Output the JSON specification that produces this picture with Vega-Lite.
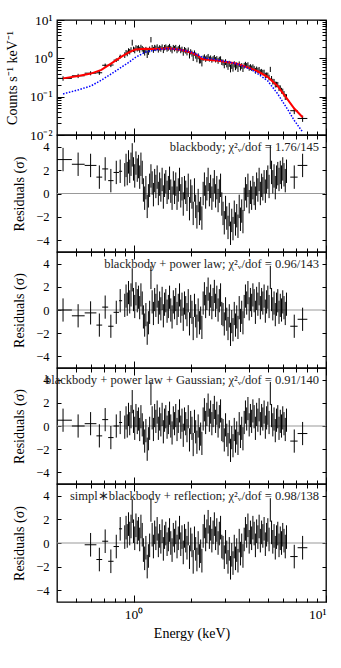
{
"$schema": "https://vega.github.io/schema/vega-lite/v6.json",
"padding": {"left": 4, "top": 12, "right": 5, "bottom": 22},
"spacing": 0,
"bounds": "flush",
"datasets": {
"bins": [
{"e":0.43,"lo":0.4,"hi":0.478,"f":0.3,"fe":0.04,"r1":2.9,"r2":0,"r3":0.5,"r4":null,"u":1},
{"e":0.515,"lo":0.478,"hi":0.557,"f":0.35,"fe":0.045,"r1":2.5,"r2":-0.5,"r3":0,"r4":null,"u":1},
{"e":0.598,"lo":0.557,"hi":0.641,"f":0.41,"fe":0.05,"r1":2.4,"r2":-0.25,"r3":0.2,"r4":-0.15,"u":1},
{"e":0.664,"lo":0.641,"hi":0.687,"f":0.42,"fe":0.05,"r1":1.4,"r2":-1.3,"r3":-0.85,"r4":-1.4,"u":1},
{"e":0.712,"lo":0.687,"hi":0.738,"f":0.66,"fe":0.07,"r1":2.1,"r2":0.25,"r3":0.55,"r4":0.15,"u":1},
{"e":0.762,"lo":0.738,"hi":0.787,"f":0.67,"fe":0.08,"r1":1.1,"r2":-1.4,"r3":-1,"r4":-1.55,"u":1},
{"e":0.813,"lo":0.787,"hi":0.84,"f":0.9,"fe":0.1,"r1":1.8,"r2":-0.2,"r3":0,"r4":-0.3,"u":1},
{"e":0.852,"lo":0.84,"hi":0.872,"f":1.12,"fe":0.13,"r1":1.9,"r2":0.8,"r3":0.3,"r4":1.2,"u":1},
{"e":0.900,"f":1.23,"fe":0.21,"r1":1.6,"r2":0.4,"r3":-0.1,"r4":0.5,"u":1},
{"e":0.914,"f":1.43,"fe":0.22,"r1":2.4,"r2":1.2,"r3":0.7,"r4":1.3,"u":1},
{"e":0.927,"f":1.36,"fe":0.23,"r1":1.7,"r2":0.5,"r3":0,"r4":0.6,"u":1},
{"e":0.941,"f":1.59,"fe":0.24,"r1":2.7,"r2":1.5,"r3":1,"r4":1.6,"u":1},
{"e":0.955,"f":1.51,"fe":0.25,"r1":1.9,"r2":0.7,"r3":0.2,"r4":0.8,"u":1},
{"e":0.970,"f":1.69,"fe":0.26,"r1":2.5,"r2":1.3,"r3":0.8,"r4":1.4,"u":1},
{"e":0.984,"f":2.6,"fe":0.45,"r1":3.3,"r2":2.6,"r3":2.1,"r4":2.7,"u":1},
{"e":0.999,"f":1.74,"fe":0.28,"r1":2.1,"r2":0.9,"r3":0.4,"r4":1,"u":1},
{"e":1.014,"f":1.64,"fe":0.29,"r1":1.5,"r2":0.3,"r3":-0.2,"r4":0.4,"u":1},
{"e":1.029,"f":1.91,"fe":0.29,"r1":2.6,"r2":1.4,"r3":0.9,"r4":1.5,"u":1},
{"e":1.045,"f":1.81,"fe":0.3,"r1":2,"r2":0.8,"r3":0.3,"r4":0.9,"u":1},
{"e":1.060,"f":1.9,"fe":0.3,"r1":2.3,"r2":1.1,"r3":0.6,"r4":1.2,"u":1},
{"e":1.076,"f":1.7,"fe":0.3,"r1":1.4,"r2":0.2,"r3":-0.3,"r4":0.3,"u":1},
{"e":1.092,"f":1.96,"fe":0.3,"r1":2.5,"r2":1.3,"r3":0.8,"r4":1.4,"u":1},
{"e":1.109,"f":1.8,"fe":0.3,"r1":1.8,"r2":0.6,"r3":0.1,"r4":0.7,"u":1},
{"e":1.125,"f":1.64,"fe":0.3,"r1":0.3,"r2":-0.6,"r3":-0.6,"r4":-0.6,"u":1},
{"e":1.142,"f":1.48,"fe":0.3,"r1":-0.4,"r2":-1.3,"r3":-1.3,"r4":-1.3,"u":1},
{"e":1.159,"f":1.69,"fe":0.3,"r1":0.5,"r2":-0.4,"r3":-0.4,"r4":-0.4,"u":1},
{"e":1.177,"f":1.32,"fe":0.3,"r1":-1.1,"r2":-2,"r3":-2,"r4":-2,"u":1},
{"e":1.194,"f":1.53,"fe":0.3,"r1":-0.2,"r2":-1.1,"r3":-1.1,"r4":-1.1,"u":1},
{"e":1.212,"f":1.73,"fe":0.3,"r1":0.7,"r2":-0.2,"r3":-0.2,"r4":-0.2,"u":1},
{"e":1.231,"f":3.1,"fe":0.5,"r1":1.5,"r2":2.8,"r3":2.8,"r4":2.8,"u":1},
{"e":1.249,"f":1.92,"fe":0.3,"r1":0.9,"r2":0.7,"r3":0.7,"r4":0.7,"u":1},
{"e":1.268,"f":1.69,"fe":0.3,"r1":-0.1,"r2":-0.3,"r3":-0.3,"r4":-0.3,"u":1},
{"e":1.287,"f":1.95,"fe":0.3,"r1":1.1,"r2":0.9,"r3":0.9,"r4":0.9,"u":1},
{"e":1.306,"f":1.84,"fe":0.3,"r1":0.6,"r2":0.4,"r3":0.4,"r4":0.4,"u":1},
{"e":1.326,"f":2.02,"fe":0.3,"r1":1.4,"r2":1.2,"r3":1.2,"r4":1.2,"u":1},
{"e":1.345,"f":1.71,"fe":0.3,"r1":0,"r2":-0.2,"r3":-0.2,"r4":-0.2,"u":1},
{"e":1.366,"f":1.9,"fe":0.3,"r1":0.8,"r2":0.6,"r3":0.6,"r4":0.6,"u":1},
{"e":1.386,"f":1.79,"fe":0.3,"r1":0.3,"r2":0.1,"r3":0.1,"r4":0.1,"u":1},
{"e":1.407,"f":2.01,"fe":0.3,"r1":1.2,"r2":1,"r3":1,"r4":1,"u":1},
{"e":1.428,"f":1.67,"fe":0.3,"r1":-0.3,"r2":-0.5,"r3":-0.5,"r4":-0.5,"u":1},
{"e":1.449,"f":1.92,"fe":0.31,"r1":0.7,"r2":0.5,"r3":0.5,"r4":0.5,"u":1},
{"e":1.471,"f":2,"fe":0.31,"r1":1,"r2":0.8,"r3":0.8,"r4":0.8,"u":1},
{"e":1.493,"f":1.8,"fe":0.31,"r1":0.1,"r2":-0.1,"r3":-0.1,"r4":-0.1,"u":1},
{"e":1.516,"f":1.89,"fe":0.31,"r1":0.5,"r2":0.3,"r3":0.3,"r4":0.3,"u":1},
{"e":1.538,"f":2.07,"fe":0.31,"r1":1.3,"r2":1.1,"r3":1.1,"r4":1.1,"u":1},
{"e":1.561,"f":1.8,"fe":0.31,"r1":0.2,"r2":0,"r3":0,"r4":0,"u":1},
{"e":1.585,"f":1.65,"fe":0.3,"r1":-0.4,"r2":-0.6,"r3":-0.6,"r4":-0.6,"u":1},
{"e":1.609,"f":1.94,"fe":0.3,"r1":0.9,"r2":0.7,"r3":0.7,"r4":0.7,"u":1},
{"e":1.633,"f":1.81,"fe":0.3,"r1":0.1,"r2":0.2,"r3":0.2,"r4":0.2,"u":1},
{"e":1.657,"f":1.94,"fe":0.3,"r1":0.8,"r2":0.9,"r3":0.9,"r4":0.9,"u":1},
{"e":1.682,"f":1.65,"fe":0.29,"r1":-0.4,"r2":-0.3,"r3":-0.3,"r4":-0.3,"u":1},
{"e":1.707,"f":1.79,"fe":0.29,"r1":0.3,"r2":0.4,"r3":0.4,"r4":0.4,"u":1},
{"e":1.733,"f":1.96,"fe":0.29,"r1":1.2,"r2":1.3,"r3":1.3,"r4":1.3,"u":1},
{"e":1.759,"f":1.64,"fe":0.28,"r1":-0.2,"r2":-0.1,"r3":-0.1,"r4":-0.1,"u":1},
{"e":1.785,"f":1.74,"fe":0.28,"r1":0.4,"r2":0.5,"r3":0.5,"r4":0.5,"u":1},
{"e":1.812,"f":1.44,"fe":0.27,"r1":-0.9,"r2":-0.8,"r3":-0.8,"r4":-0.8,"u":1},
{"e":1.839,"f":1.7,"fe":0.27,"r1":0.5,"r2":0.6,"r3":0.6,"r4":0.6,"u":1},
{"e":1.867,"f":1.6,"fe":0.27,"r1":0.1,"r2":0.2,"r3":0.2,"r4":0.2,"u":1},
{"e":1.895,"f":1.45,"fe":0.26,"r1":-0.5,"r2":-0.4,"r3":-0.4,"r4":-0.4,"u":1},
{"e":1.923,"f":1.66,"fe":0.26,"r1":0.7,"r2":0.8,"r3":0.8,"r4":0.8,"u":1},
{"e":1.952,"f":1.24,"fe":0.25,"r1":-1.3,"r2":-1.2,"r3":-1.2,"r4":-1.2,"u":1},
{"e":1.981,"f":1.49,"fe":0.24,"r1":0.2,"r2":0.3,"r3":0.3,"r4":0.3,"u":1},
{"e":2.011,"f":1.35,"fe":0.24,"r1":-0.3,"r2":-0.2,"r3":-0.2,"r4":-0.2,"u":1},
{"e":2.041,"f":1.08,"fe":0.23,"r1":-1.7,"r2":-1.6,"r3":-1.6,"r4":-1.6,"u":1},
{"e":2.072,"f":1.39,"fe":0.22,"r1":0.3,"r2":0.4,"r3":0.4,"r4":0.4,"u":1},
{"e":2.103,"f":1.2,"fe":0.22,"r1":-1.1,"r2":-0.5,"r3":-0.5,"r4":-0.5,"u":1},
{"e":2.134,"f":1,"fe":0.21,"r1":-2,"r2":-1.4,"r3":-1.4,"r4":-1.4,"u":1},
{"e":2.166,"f":1.15,"fe":0.2,"r1":-0.6,"r2":0,"r3":0,"r4":0,"u":1},
{"e":2.199,"f":0.91,"fe":0.18,"r1":-1.7,"r2":-1.1,"r3":-1.1,"r4":-1.1,"u":1},
{"e":2.232,"f":0.91,"fe":0.17,"r1":-1.3,"r2":-0.7,"r3":-0.7,"r4":-0.7,"u":1},
{"e":2.265,"f":0.78,"fe":0.165,"r1":-2.1,"r2":-1.5,"r3":-1.5,"r4":-1.5,"u":1},
{"e":2.299,"f":1.02,"fe":0.16,"r1":0,"r2":0.6,"r3":0.6,"r4":0.6,"u":1},
{"e":2.334,"f":1.11,"fe":0.16,"r1":0.8,"r2":1.4,"r3":1.4,"r4":1.4,"u":1},
{"e":2.369,"f":0.97,"fe":0.16,"r1":-0.3,"r2":0.3,"r3":0.3,"r4":0.3,"u":1},
{"e":2.404,"f":1.04,"fe":0.16,"r1":0.4,"r2":1,"r3":1,"r4":1,"u":1},
{"e":2.44,"f":1.14,"fe":0.16,"r1":1.2,"r2":1.8,"r3":1.8,"r4":1.8,"u":1},
{"e":2.477,"f":0.97,"fe":0.15,"r1":-0.1,"r2":0.5,"r3":0.5,"r4":0.5,"u":1},
{"e":2.514,"f":1.04,"fe":0.15,"r1":0.6,"r2":1.2,"r3":1.2,"r4":1.2,"u":1},
{"e":2.552,"f":0.92,"fe":0.15,"r1":-0.4,"r2":0.2,"r3":0.2,"r4":0.2,"u":1},
{"e":2.59,"f":0.99,"fe":0.15,"r1":0.3,"r2":0.9,"r3":0.9,"r4":0.9,"u":1},
{"e":2.629,"f":1.07,"fe":0.15,"r1":1,"r2":1.6,"r3":1.6,"r4":1.6,"u":1},
{"e":2.668,"f":0.93,"fe":0.15,"r1":-0.2,"r2":0.4,"r3":0.4,"r4":0.4,"u":1},
{"e":2.708,"f":0.99,"fe":0.15,"r1":0.5,"r2":1.1,"r3":1.1,"r4":1.1,"u":1},
{"e":2.749,"f":0.87,"fe":0.15,"r1":-0.6,"r2":0,"r3":0,"r4":0,"u":1},
{"e":2.79,"f":0.95,"fe":0.15,"r1":0.2,"r2":0.8,"r3":0.8,"r4":0.8,"u":1},
{"e":2.832,"f":0.99,"fe":0.14,"r1":0.7,"r2":1.3,"r3":1.3,"r4":1.3,"u":1},
{"e":2.874,"f":0.81,"fe":0.14,"r1":-0.9,"r2":-0.3,"r3":-0.3,"r4":-0.3,"u":1},
{"e":2.917,"f":0.79,"fe":0.14,"r1":-1.7,"r2":-0.4,"r3":-0.4,"r4":-0.4,"u":1},
{"e":2.961,"f":0.69,"fe":0.14,"r1":-2.5,"r2":-1.2,"r3":-1.2,"r4":-1.2,"u":1},
{"e":3.006,"f":0.81,"fe":0.14,"r1":-1.2,"r2":0.1,"r3":0.1,"r4":0.1,"u":1},
{"e":3.051,"f":0.72,"fe":0.14,"r1":-2.1,"r2":-0.8,"r3":-0.8,"r4":-0.8,"u":1},
{"e":3.096,"f":0.63,"fe":0.13,"r1":-2.9,"r2":-1.6,"r3":-1.6,"r4":-1.6,"u":1},
{"e":3.143,"f":0.73,"fe":0.13,"r1":-1.8,"r2":-0.5,"r3":-0.5,"r4":-0.5,"u":1},
{"e":3.19,"f":0.56,"fe":0.13,"r1":-3.4,"r2":-2.1,"r3":-2.1,"r4":-2.1,"u":1},
{"e":3.238,"f":0.66,"fe":0.13,"r1":-2.3,"r2":-1,"r3":-1,"r4":-1,"u":1},
{"e":3.286,"f":0.58,"fe":0.13,"r1":-3,"r2":-1.7,"r3":-1.7,"r4":-1.7,"u":1},
{"e":3.336,"f":0.71,"fe":0.13,"r1":-1.6,"r2":-0.3,"r3":-0.3,"r4":-0.3,"u":1},
{"e":3.386,"f":0.61,"fe":0.12,"r1":-2.6,"r2":-1.3,"r3":-1.3,"r4":-1.3,"u":1},
{"e":3.436,"f":0.66,"fe":0.12,"r1":-1.9,"r2":-0.6,"r3":-0.6,"r4":-0.6,"u":1},
{"e":3.488,"f":0.56,"fe":0.12,"r1":-2.8,"r2":-1.5,"r3":-1.5,"r4":-1.5,"u":1},
{"e":3.54,"f":0.71,"fe":0.12,"r1":-1.1,"r2":0.2,"r3":0.2,"r4":0.2,"u":1},
{"e":3.593,"f":0.59,"fe":0.11,"r1":-2.2,"r2":-0.9,"r3":-0.9,"r4":-0.9,"u":1},
{"e":3.647,"f":0.64,"fe":0.11,"r1":-1.5,"r2":-0.2,"r3":-0.2,"r4":-0.2,"u":1},
{"e":3.702,"f":0.55,"fe":0.11,"r1":-2.4,"r2":-1.1,"r3":-1.1,"r4":-1.1,"u":1},
{"e":3.757,"f":0.65,"fe":0.11,"r1":-0.5,"r2":0.3,"r3":0.3,"r4":0.3,"u":1},
{"e":3.814,"f":0.71,"fe":0.1,"r1":0.4,"r2":1.2,"r3":1.2,"r4":1.2,"u":1},
{"e":3.871,"f":0.65,"fe":0.1,"r1":-0.2,"r2":0.6,"r3":0.6,"r4":0.6,"u":1},
{"e":3.929,"f":0.69,"fe":0.1,"r1":0.7,"r2":1.5,"r3":1.5,"r4":1.5,"u":1},
{"e":3.988,"f":0.57,"fe":0.095,"r1":-0.7,"r2":0.1,"r3":0.1,"r4":0.1,"u":1},
{"e":4.048,"f":0.61,"fe":0.094,"r1":0.1,"r2":0.9,"r3":0.9,"r4":0.9,"u":1},
{"e":4.108,"f":0.56,"fe":0.09,"r1":-0.4,"r2":0.4,"r3":0.4,"r4":0.4,"u":1},
{"e":4.17,"f":0.61,"fe":0.088,"r1":0.5,"r2":1.3,"r3":1.3,"r4":1.3,"u":1},
{"e":4.232,"f":0.55,"fe":0.085,"r1":0,"r2":0.8,"r3":0.8,"r4":0.8,"u":1},
{"e":4.296,"f":0.48,"fe":0.083,"r1":-0.4,"r2":-0.2,"r3":-0.2,"r4":-0.2,"u":1},
{"e":4.36,"f":0.53,"fe":0.08,"r1":0.8,"r2":1,"r3":1,"r4":1,"u":1},
{"e":4.426,"f":0.49,"fe":0.078,"r1":0.3,"r2":0.5,"r3":0.5,"r4":0.5,"u":1},
{"e":4.492,"f":0.52,"fe":0.075,"r1":1.2,"r2":1.4,"r3":1.4,"r4":1.4,"u":1},
{"e":4.559,"f":0.44,"fe":0.073,"r1":0,"r2":0.2,"r3":0.2,"r4":0.2,"u":1},
{"e":4.628,"f":0.46,"fe":0.07,"r1":0.7,"r2":0.9,"r3":0.9,"r4":0.9,"u":1},
{"e":4.697,"f":0.43,"fe":0.068,"r1":0.4,"r2":0.6,"r3":0.6,"r4":0.6,"u":1},
{"e":4.768,"f":0.44,"fe":0.065,"r1":1,"r2":1.2,"r3":1.2,"r4":1.2,"u":1},
{"e":4.839,"f":0.36,"fe":0.061,"r1":0.2,"r2":-0.1,"r3":-0.1,"r4":-0.1,"u":1},
{"e":4.912,"f":0.37,"fe":0.058,"r1":1,"r2":0.7,"r3":0.7,"r4":0.7,"u":1},
{"e":4.986,"f":0.37,"fe":0.054,"r1":1.4,"r2":1.1,"r3":1.1,"r4":1.1,"u":1},
{"e":5.06,"f":0.32,"fe":0.053,"r1":0.6,"r2":0.3,"r3":0.3,"r4":0.3,"u":1},
{"e":5.136,"f":0.52,"fe":0.08,"r1":3.1,"r2":2.8,"r3":2.8,"r4":2.8,"u":1},
{"e":5.213,"f":0.3,"fe":0.046,"r1":1.8,"r2":0.9,"r3":0.9,"r4":0.9,"u":1},
{"e":5.291,"f":0.25,"fe":0.043,"r1":1,"r2":0.1,"r3":0.1,"r4":0.1,"u":1},
{"e":5.371,"f":0.25,"fe":0.04,"r1":1.5,"r2":0.6,"r3":0.6,"r4":0.6,"u":1},
{"e":5.451,"f":0.21,"fe":0.037,"r1":0.5,"r2":-0.4,"r3":-0.4,"r4":-0.4,"u":1},
{"e":5.533,"f":0.21,"fe":0.034,"r1":1.4,"r2":0.5,"r3":0.5,"r4":0.5,"u":1},
{"e":5.616,"f":0.21,"fe":0.032,"r1":1.7,"r2":0.8,"r3":0.8,"r4":0.8,"u":1},
{"e":5.7,"f":0.17,"fe":0.03,"r1":1.2,"r2":-0.2,"r3":-0.2,"r4":-0.2,"u":1},
{"e":5.786,"f":0.17,"fe":0.027,"r1":1.8,"r2":0.4,"r3":0.4,"r4":0.4,"u":1},
{"e":5.873,"f":0.145,"fe":0.025,"r1":1.4,"r2":0,"r3":0,"r4":0,"u":1},
{"e":5.961,"f":0.14,"fe":0.022,"r1":2.1,"r2":0.7,"r3":0.7,"r4":0.7,"u":1},
{"e":6.05,"f":0.12,"fe":0.02,"r1":1.6,"r2":0.2,"r3":0.2,"r4":0.2,"u":1},
{"e":6.141,"f":0.1,"fe":0.018,"r1":1.1,"r2":-0.3,"r3":-0.3,"r4":-0.3,"u":1},
{"e":6.233,"f":0.1,"fe":0.016,"r1":1.9,"r2":0.5,"r3":0.5,"r4":0.5,"u":1},
{"e":6.84,"lo":6.52,"hi":7.12,"f":0.043,"fe":0.008,"r1":1.4,"r2":-1.4,"r3":-1.3,"r4":-1.15,"u":1},
{"e":7.56,"lo":7.12,"hi":8.0,"f":0.027,"fe":0.005,"r1":2.4,"r2":-0.8,"r3":-0.65,"r4":-0.4,"u":1}
],
"model": [
{"e":0.43,"m":0.3,"b":0.118},{"e":0.515,"m":0.345,"b":0.15},{"e":0.6,"m":0.4,"b":0.19},{"e":0.68,"m":0.5,"b":0.27},{"e":0.77,"m":0.75,"b":0.4},{"e":0.87,"m":1.12,"b":0.6},{"e":0.95,"m":1.45,"b":0.8},{"e":1.02,"m":1.7,"b":1.05},{"e":1.15,"m":1.78,"b":1.45},{"e":1.34,"m":1.75,"b":1.7},{"e":1.52,"m":1.82,"b":1.8},{"e":1.78,"m":1.65,"b":1.66},{"e":2.0,"m":1.4,"b":1.45},{"e":2.16,"m":1.18,"b":1.22},{"e":2.25,"m":0.97,"b":1.1},{"e":2.35,"m":0.93,"b":1.02},{"e":2.76,"m":0.86,"b":0.9},{"e":2.96,"m":0.81,"b":0.84},{"e":3.37,"m":0.74,"b":0.74},{"e":3.61,"m":0.67,"b":0.66},{"e":4.12,"m":0.53,"b":0.5},{"e":4.41,"m":0.46,"b":0.4},{"e":4.97,"m":0.33,"b":0.26},{"e":5.6,"m":0.19,"b":0.12},{"e":6.31,"m":0.085,"b":0.047},{"e":6.84,"m":0.049,"b":0.024},{"e":7.56,"m":0.029,"b":0.012}
],
"labels": [
{"panel":1,"label":"blackbody; χ²ᵥ/dof = 1.76/145"},
{"panel":2,"label":"blackbody + power law; χ²ᵥ/dof = 0.96/143"},
{"panel":3,"label":"blackbody + power law + Gaussian; χ²ᵥ/dof = 0.91/140"},
{"panel":4,"label":"simpl∗blackbody + reflection; χ²ᵥ/dof = 0.98/138"}
]
},
"vconcat": [
{
"width": 269, "height": 115,
"resolve": {"axis": {"x": "independent", "y": "independent"}},
"layer": [
{"data": {"name": "bins"}, "transform": [{"filter": "isValid(datum.lo)"}],
"mark": {"type": "rule", "color": "#000", "strokeWidth": 1},
"encoding": {
"x": {"field": "lo", "type": "quantitative", "scale": {"type": "log", "domain": [0.4, 10], "nice": false}, "axis": {"orient": "bottom", "values": [1, 10], "tickSize": -7, "labels": false, "title": null}},
"x2": {"field": "hi"},
"y": {"field": "f", "type": "quantitative", "scale": {"type": "log", "domain": [0.01, 10], "nice": false}, "axis": {"orient": "left", "values": [0.01, 0.1, 1, 10], "tickSize": -7, "labelPadding": 12, "labelFontSize": 13.5, "labelExpr": "datum.value == 10 ? '10¹' : datum.value == 1 ? '10⁰' : datum.value == 0.1 ? '10⁻¹' : '10⁻²'", "title": "Counts s⁻¹ keV⁻¹", "titlePadding": 10}}
}},
{"data": {"name": "bins"},
"mark": {"type": "errorbar", "color": "#000", "rule": {"strokeWidth": 1}},
"encoding": {
"x": {"field": "e", "type": "quantitative", "scale": {"type": "log", "domain": [0.4, 10], "nice": false}, "axis": {"orient": "top", "values": [1, 10], "tickSize": -7, "labels": false, "title": null}},
"y": {"field": "f", "type": "quantitative", "scale": {"type": "log", "domain": [0.01, 10], "nice": false}, "axis": {"orient": "right", "values": [0.01, 0.1, 1, 10], "tickSize": -7, "labels": false, "title": null}},
"yError": {"field": "fe"}
}},
{"data": {"name": "model"},
"mark": {"type": "line", "color": "#ff0000", "strokeWidth": 2},
"encoding": {
"x": {"field": "e", "type": "quantitative", "scale": {"type": "log", "domain": [0.4, 10], "nice": false}, "axis": {"orient": "bottom", "values": [0.5,0.6,0.7,0.8,0.9,2,3,4,5,6,7,8,9], "tickSize": -4, "labels": false, "title": null}},
"y": {"field": "m", "type": "quantitative", "scale": {"type": "log", "domain": [0.01, 10], "nice": false}, "axis": {"orient": "left", "values": [0.02,0.03,0.04,0.05,0.06,0.07,0.08,0.09,0.2,0.3,0.4,0.5,0.6,0.7,0.8,0.9,2,3,4,5,6,7,8,9], "tickSize": -4, "labels": false, "title": null}}
}},
{"data": {"name": "model"},
"mark": {"type": "line", "color": "#0000ff", "strokeWidth": 1.5, "strokeDash": [1.5, 1.5]},
"encoding": {
"x": {"field": "e", "type": "quantitative", "scale": {"type": "log", "domain": [0.4, 10], "nice": false}, "axis": {"orient": "top", "values": [0.5,0.6,0.7,0.8,0.9,2,3,4,5,6,7,8,9], "tickSize": -4, "labels": false, "title": null}},
"y": {"field": "b", "type": "quantitative", "scale": {"type": "log", "domain": [0.01, 10], "nice": false}, "axis": {"orient": "right", "values": [0.02,0.03,0.04,0.05,0.06,0.07,0.08,0.09,0.2,0.3,0.4,0.5,0.6,0.7,0.8,0.9,2,3,4,5,6,7,8,9], "tickSize": -4, "labels": false, "title": null}}
}}
]
},
{
"width": 269, "height": 117,
"resolve": {"axis": {"x": "independent", "y": "independent"}},
"layer": [
{"data": {"name": "labels"}, "transform": [{"filter": "datum.panel == 1"}],
"mark": {"type": "rule", "color": "#999999", "strokeWidth": 1},
"encoding": {
"x": {"datum": 0.4, "type": "quantitative", "scale": {"type": "log", "domain": [0.4, 10], "nice": false}, "axis": {"orient": "bottom", "values": [1, 10], "tickSize": -7, "labels": false, "title": null}},
"x2": {"datum": 10},
"y": {"datum": 0, "type": "quantitative", "scale": {"domain": [-5, 5], "nice": false, "zero": false}, "axis": {"orient": "left", "values": [-4, -2, 0, 2, 4], "tickSize": -4, "labelPadding": 12, "labelFontSize": 12.5, "title": "Residuals (σ)", "titlePadding": 9}}
}},
{"data": {"name": "bins"}, "transform": [{"filter": "isValid(datum.lo)"}],
"mark": {"type": "rule", "color": "#000", "strokeWidth": 1},
"encoding": {
"x": {"field": "lo", "type": "quantitative", "scale": {"type": "log", "domain": [0.4, 10], "nice": false}, "axis": {"orient": "top", "values": [1, 10], "tickSize": -7, "labels": false, "title": null}},
"x2": {"field": "hi"},
"y": {"field": "r1", "type": "quantitative", "scale": {"domain": [-5, 5], "nice": false, "zero": false}, "axis": {"orient": "right", "values": [-4, -2, 0, 2, 4], "tickSize": -4, "labels": false, "title": null}}
}},
{"data": {"name": "bins"},
"mark": {"type": "errorbar", "color": "#000", "rule": {"strokeWidth": 1}},
"encoding": {
"x": {"field": "e", "type": "quantitative", "scale": {"type": "log", "domain": [0.4, 10], "nice": false}, "axis": {"orient": "bottom", "values": [0.5,0.6,0.7,0.8,0.9,2,3,4,5,6,7,8,9], "tickSize": -4, "labels": false, "title": null}},
"y": {"field": "r1", "type": "quantitative", "scale": {"domain": [-5, 5], "nice": false, "zero": false}, "axis": null},
"yError": {"field": "u"}
}},
{"data": {"name": "labels"}, "transform": [{"filter": "datum.panel == 1"}],
"mark": {"type": "text", "align": "right", "baseline": "middle", "fontSize": 12.5, "color": "#222"},
"encoding": {
"x": {"datum": 9.2, "type": "quantitative", "scale": {"type": "log", "domain": [0.4, 10], "nice": false}, "axis": {"orient": "top", "values": [0.5,0.6,0.7,0.8,0.9,2,3,4,5,6,7,8,9], "tickSize": -4, "labels": false, "title": null}},
"y": {"datum": 3.95, "type": "quantitative", "scale": {"domain": [-5, 5], "nice": false, "zero": false}, "axis": null},
"text": {"field": "label"}
}}
]
},
{
"width": 269, "height": 116,
"resolve": {"axis": {"x": "independent", "y": "independent"}},
"layer": [
{"data": {"name": "labels"}, "transform": [{"filter": "datum.panel == 2"}],
"mark": {"type": "rule", "color": "#999999", "strokeWidth": 1},
"encoding": {
"x": {"datum": 0.4, "type": "quantitative", "scale": {"type": "log", "domain": [0.4, 10], "nice": false}, "axis": {"orient": "bottom", "values": [1, 10], "tickSize": -7, "labels": false, "title": null}},
"x2": {"datum": 10},
"y": {"datum": 0, "type": "quantitative", "scale": {"domain": [-5, 5], "nice": false, "zero": false}, "axis": {"orient": "left", "values": [-4, -2, 0, 2, 4], "tickSize": -4, "labelPadding": 12, "labelFontSize": 12.5, "title": "Residuals (σ)", "titlePadding": 9}}
}},
{"data": {"name": "bins"}, "transform": [{"filter": "isValid(datum.lo)"}],
"mark": {"type": "rule", "color": "#000", "strokeWidth": 1},
"encoding": {
"x": {"field": "lo", "type": "quantitative", "scale": {"type": "log", "domain": [0.4, 10], "nice": false}, "axis": {"orient": "top", "values": [1, 10], "tickSize": -7, "labels": false, "title": null}},
"x2": {"field": "hi"},
"y": {"field": "r2", "type": "quantitative", "scale": {"domain": [-5, 5], "nice": false, "zero": false}, "axis": {"orient": "right", "values": [-4, -2, 0, 2, 4], "tickSize": -4, "labels": false, "title": null}}
}},
{"data": {"name": "bins"},
"mark": {"type": "errorbar", "color": "#000", "rule": {"strokeWidth": 1}},
"encoding": {
"x": {"field": "e", "type": "quantitative", "scale": {"type": "log", "domain": [0.4, 10], "nice": false}, "axis": {"orient": "bottom", "values": [0.5,0.6,0.7,0.8,0.9,2,3,4,5,6,7,8,9], "tickSize": -4, "labels": false, "title": null}},
"y": {"field": "r2", "type": "quantitative", "scale": {"domain": [-5, 5], "nice": false, "zero": false}, "axis": null},
"yError": {"field": "u"}
}},
{"data": {"name": "labels"}, "transform": [{"filter": "datum.panel == 2"}],
"mark": {"type": "text", "align": "right", "baseline": "middle", "fontSize": 12.5, "color": "#222"},
"encoding": {
"x": {"datum": 9.2, "type": "quantitative", "scale": {"type": "log", "domain": [0.4, 10], "nice": false}, "axis": {"orient": "top", "values": [0.5,0.6,0.7,0.8,0.9,2,3,4,5,6,7,8,9], "tickSize": -4, "labels": false, "title": null}},
"y": {"datum": 3.95, "type": "quantitative", "scale": {"domain": [-5, 5], "nice": false, "zero": false}, "axis": null},
"text": {"field": "label"}
}}
]
},
{
"width": 269, "height": 116,
"resolve": {"axis": {"x": "independent", "y": "independent"}},
"layer": [
{"data": {"name": "labels"}, "transform": [{"filter": "datum.panel == 3"}],
"mark": {"type": "rule", "color": "#999999", "strokeWidth": 1},
"encoding": {
"x": {"datum": 0.4, "type": "quantitative", "scale": {"type": "log", "domain": [0.4, 10], "nice": false}, "axis": {"orient": "bottom", "values": [1, 10], "tickSize": -7, "labels": false, "title": null}},
"x2": {"datum": 10},
"y": {"datum": 0, "type": "quantitative", "scale": {"domain": [-5, 5], "nice": false, "zero": false}, "axis": {"orient": "left", "values": [-4, -2, 0, 2, 4], "tickSize": -4, "labelPadding": 12, "labelFontSize": 12.5, "title": "Residuals (σ)", "titlePadding": 9}}
}},
{"data": {"name": "bins"}, "transform": [{"filter": "isValid(datum.lo)"}],
"mark": {"type": "rule", "color": "#000", "strokeWidth": 1},
"encoding": {
"x": {"field": "lo", "type": "quantitative", "scale": {"type": "log", "domain": [0.4, 10], "nice": false}, "axis": {"orient": "top", "values": [1, 10], "tickSize": -7, "labels": false, "title": null}},
"x2": {"field": "hi"},
"y": {"field": "r3", "type": "quantitative", "scale": {"domain": [-5, 5], "nice": false, "zero": false}, "axis": {"orient": "right", "values": [-4, -2, 0, 2, 4], "tickSize": -4, "labels": false, "title": null}}
}},
{"data": {"name": "bins"},
"mark": {"type": "errorbar", "color": "#000", "rule": {"strokeWidth": 1}},
"encoding": {
"x": {"field": "e", "type": "quantitative", "scale": {"type": "log", "domain": [0.4, 10], "nice": false}, "axis": {"orient": "bottom", "values": [0.5,0.6,0.7,0.8,0.9,2,3,4,5,6,7,8,9], "tickSize": -4, "labels": false, "title": null}},
"y": {"field": "r3", "type": "quantitative", "scale": {"domain": [-5, 5], "nice": false, "zero": false}, "axis": null},
"yError": {"field": "u"}
}},
{"data": {"name": "labels"}, "transform": [{"filter": "datum.panel == 3"}],
"mark": {"type": "text", "align": "right", "baseline": "middle", "fontSize": 12.5, "color": "#222"},
"encoding": {
"x": {"datum": 9.2, "type": "quantitative", "scale": {"type": "log", "domain": [0.4, 10], "nice": false}, "axis": {"orient": "top", "values": [0.5,0.6,0.7,0.8,0.9,2,3,4,5,6,7,8,9], "tickSize": -4, "labels": false, "title": null}},
"y": {"datum": 3.95, "type": "quantitative", "scale": {"domain": [-5, 5], "nice": false, "zero": false}, "axis": null},
"text": {"field": "label"}
}}
]
},
{
"width": 269, "height": 118,
"resolve": {"axis": {"x": "independent", "y": "independent"}},
"layer": [
{"data": {"name": "labels"}, "transform": [{"filter": "datum.panel == 4"}],
"mark": {"type": "rule", "color": "#999999", "strokeWidth": 1},
"encoding": {
"x": {"datum": 0.4, "type": "quantitative", "scale": {"type": "log", "domain": [0.4, 10], "nice": false}, "axis": {"orient": "bottom", "values": [1, 10], "tickSize": -7, "labelPadding": 12, "labelFontSize": 13.5, "labelExpr": "datum.value == 1 ? '10⁰' : '10¹'", "title": "Energy (keV)", "titlePadding": 6}},
"x2": {"datum": 10},
"y": {"datum": 0, "type": "quantitative", "scale": {"domain": [-5, 5], "nice": false, "zero": false}, "axis": {"orient": "left", "values": [-4, -2, 0, 2, 4], "tickSize": -4, "labelPadding": 12, "labelFontSize": 12.5, "title": "Residuals (σ)", "titlePadding": 9}}
}},
{"data": {"name": "bins"}, "transform": [{"filter": "isValid(datum.lo) && isValid(datum.r4)"}],
"mark": {"type": "rule", "color": "#000", "strokeWidth": 1},
"encoding": {
"x": {"field": "lo", "type": "quantitative", "scale": {"type": "log", "domain": [0.4, 10], "nice": false}, "axis": {"orient": "top", "values": [1, 10], "tickSize": -7, "labels": false, "title": null}},
"x2": {"field": "hi"},
"y": {"field": "r4", "type": "quantitative", "scale": {"domain": [-5, 5], "nice": false, "zero": false}, "axis": {"orient": "right", "values": [-4, -2, 0, 2, 4], "tickSize": -4, "labels": false, "title": null}}
}},
{"data": {"name": "bins"}, "transform": [{"filter": "isValid(datum.r4)"}],
"mark": {"type": "errorbar", "color": "#000", "rule": {"strokeWidth": 1}},
"encoding": {
"x": {"field": "e", "type": "quantitative", "scale": {"type": "log", "domain": [0.4, 10], "nice": false}, "axis": {"orient": "bottom", "values": [0.5,0.6,0.7,0.8,0.9,2,3,4,5,6,7,8,9], "tickSize": -4, "labels": false, "title": null}},
"y": {"field": "r4", "type": "quantitative", "scale": {"domain": [-5, 5], "nice": false, "zero": false}, "axis": null},
"yError": {"field": "u"}
}},
{"data": {"name": "labels"}, "transform": [{"filter": "datum.panel == 4"}],
"mark": {"type": "text", "align": "right", "baseline": "middle", "fontSize": 12.5, "color": "#222"},
"encoding": {
"x": {"datum": 9.2, "type": "quantitative", "scale": {"type": "log", "domain": [0.4, 10], "nice": false}, "axis": {"orient": "top", "values": [0.5,0.6,0.7,0.8,0.9,2,3,4,5,6,7,8,9], "tickSize": -4, "labels": false, "title": null}},
"y": {"datum": 3.95, "type": "quantitative", "scale": {"domain": [-5, 5], "nice": false, "zero": false}, "axis": null},
"text": {"field": "label"}
}}
]
}
],
"config": {
"font": "Liberation Serif",
"view": {"stroke": "#000", "strokeWidth": 1.3},
"axis": {"domain": false, "grid": false, "tickColor": "#000", "tickWidth": 1, "labelColor": "#000", "titleColor": "#000", "labelFontSize": 13, "titleFontSize": 14, "titleFontWeight": "normal"}
}
}
